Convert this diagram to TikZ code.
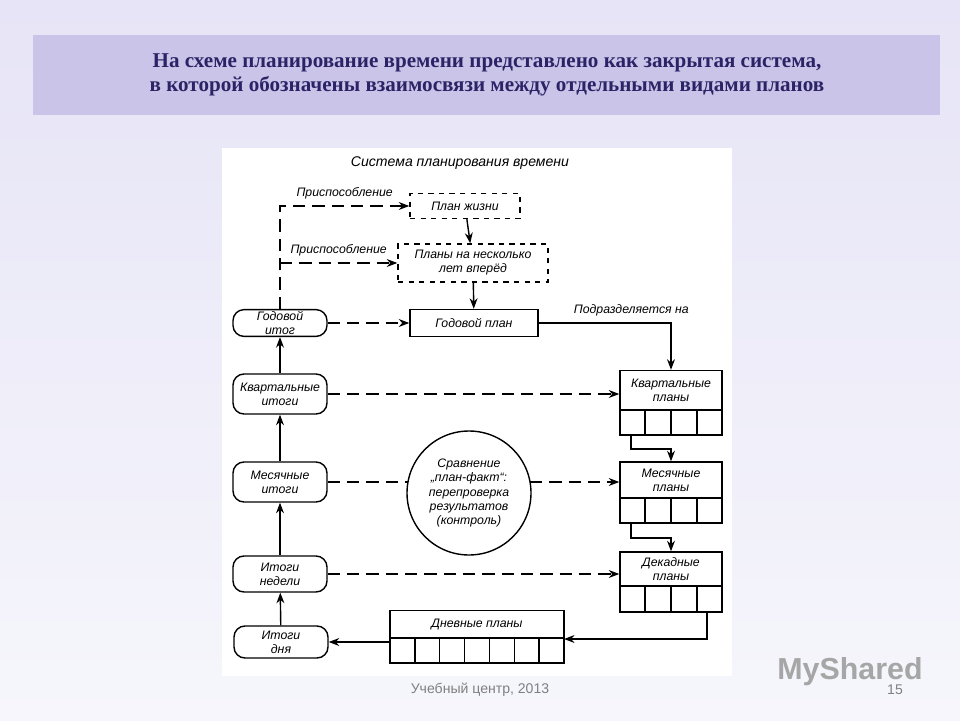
\documentclass[tikz,border=0pt]{standalone}
\usepackage{fontspec}
\setmainfont{Liberation Serif}
\newfontfamily\diagfont{Liberation Sans}
\usetikzlibrary{arrows.meta}
\newdimen\px \px=0.02cm
\definecolor{bgtop}{HTML}{E6E4F6}
\definecolor{bgbot}{HTML}{F6F6FC}
\definecolor{band}{HTML}{C9C4E8}
\definecolor{titleblue}{HTML}{2B2366}
\tikzstyle{plan}=[draw, thick, minimum width=128\px, minimum height=27\px, inner sep=1pt, align=center, font=\diagfont\itshape\scriptsize]
\tikzstyle{dplan}=[plan, dashed]
\tikzstyle{total}=[draw, thick, rounded corners=11\px, minimum width=94\px, minimum height=26\px, inner sep=1pt, align=center, font=\diagfont\itshape\scriptsize]
\tikzstyle{head}=[draw, thick, minimum width=102\px, inner sep=1pt, align=center, font=\diagfont\itshape\scriptsize]
\tikzstyle{flow}=[thick, -{Stealth[length=6pt]}]
\tikzstyle{dflow}=[flow, dashed, dash pattern=on 7pt off 4pt]
\tikzstyle{note}=[font=\diagfont\itshape\scriptsize]

\begin{document}
\begin{tikzpicture}[x=\px, y=-\px]
    \shade[top color=bgtop, bottom color=bgbot] (0,0) rectangle (960,720);
    \useasboundingbox (0,0) rectangle (960,720);
    \fill[band] (33,35) rectangle (940,115);
    \node[font=\bfseries\large, text=titleblue, align=center] at (487,75)
      {На схеме планирование времени представлено как закрытая система,\\
       в которой обозначены взаимосвязи между отдельными видами планов};
    \fill[white] (222,148) rectangle (732,676);
    \node[note, font=\diagfont\itshape\footnotesize] (T) at (460,163) {Система планирования времени};

    % plans
    \node (life) at (465,206) [dplan, minimum width=110\px, minimum height=25\px] {План жизни};
    \node (years) at (473,263) [dplan, minimum width=150\px, minimum height=38\px] {Планы на несколько\\лет вперёд};
    \node (year) at (474,323) [plan] {Годовой план};
    \node (qp) at (671,390) [head, minimum height=39\px] {Квартальные\\планы};
    \node (mp) at (671,480) [head, minimum height=36\px] {Месячные\\планы};
    \node (dp) at (671,569) [head, minimum height=34\px] {Декадные\\планы};
    \node (day) at (477,624) [head, minimum width=174\px, minimum height=27\px] {Дневные планы};
    \foreach \y/\h in {410/435, 498/523, 586/612}
      \draw[thick] (620,\y) rectangle (722,\h)
        foreach \x in {645,671,697} {(\x,\y) -- (\x,\h)};
    \draw[thick] (390,638) rectangle (564,663)
      foreach \i in {1,...,6} {({390+\i*174/7},638) -- ({390+\i*174/7},663)};

    % totals
    \node (yt) at (280,323) [total] {Годовой\\итог};
    \node (qt) at (280,394) [total, minimum height=40\px] {Квартальные\\итоги};
    \node (mt) at (280,482) [total, minimum height=40\px] {Месячные\\итоги};
    \node (wt) at (280,574) [total, minimum height=36\px] {Итоги\\недели};
    \node (dt) at (281,642) [total, minimum height=32\px] {Итоги\\дня};
    \node (cmp) at (469,493) [circle, draw, thick, minimum size=124\px, inner sep=0pt, align=center, font=\diagfont\itshape\scriptsize]
      {Сравнение\\„план-факт“:\\перепроверка\\результатов\\(контроль)};
    \coordinate (cmpw) at (408,482);
    \coordinate (cmpe) at (530,482);

    % adaptation
    \draw[dflow] (yt.north) |- (life.west) node[note, pos=0.75, above] {Приспособление};
    \coordinate (branch) at (280,263);
    \draw[dflow] (branch) -- (years.west) node[note, pos=0.5, above] {Приспособление};
    \draw[flow] (life) -- (years);
    \draw[flow] (years) -- (year);
    \draw[flow] (year.east) -| (qp.north) node[note, pos=0.35, above] {Подразделяется на};

    % comparison
    \draw[dflow] (yt) -- (year);
    \draw[dflow] (qt) -- (qp.west |- qt);
    \draw[dflow, -] (mt) -- (cmpw);
    \draw[dflow] (cmpe) -- (mp.west |- mt);
    \draw[dflow] (wt) -- (dp.west |- wt);

    % breakdown
    \draw[flow] (631,435) -- (631,449) -| (mp.north);
    \draw[flow] (631,523) -- (631,538) -| (dp.north);
    \draw[flow] (707,612) |- (564,639);
    \draw[flow] (390,642) -- (dt.east);

    % results
    \draw[flow] (dt) -- (wt);
    \draw[flow] (wt) -- (mt);
    \draw[flow] (mt) -- (qt);
    \draw[flow] (qt) -- (yt);

    \node[text=gray, font=\diagfont\footnotesize] at (480,690) {Учебный центр, 2013};
    \node[text=gray, font=\diagfont\footnotesize] at (895,690) {15};
    \node[text=gray!70, font=\diagfont\bfseries\LARGE] at (850,672) {MyShared};
\end{tikzpicture}
\end{document}
